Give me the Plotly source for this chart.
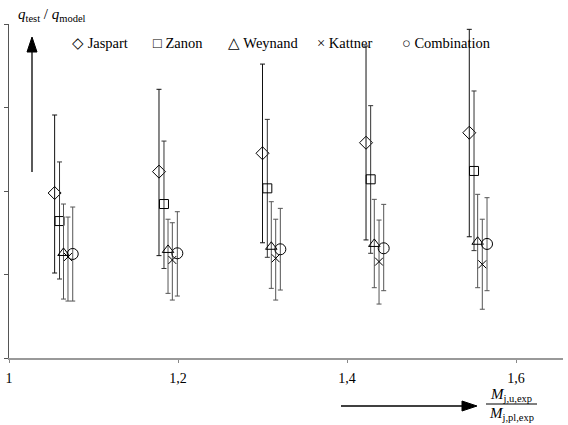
import plotly.graph_objects as go
import numpy as np

# ---- data ----
series_names = ["Jaspart", "Zanon", "Weynand", "Kattner", "Combination"]
x_jaspart = [1.054, 1.1775, 1.300, 1.4225, 1.5447]
x_zanon = [1.0598, 1.1834, 1.3057, 1.428, 1.5503]
x_weynand = [1.0645, 1.1882, 1.3104, 1.4323, 1.5546]
x_kattner = [1.0698, 1.1933, 1.3156, 1.4379, 1.5601]
x_combination = [1.0754, 1.1992, 1.3211, 1.4434, 1.5657]

y_jaspart = [0.988, 1.116, 1.226, 1.289, 1.349]
hi_jaspart = [1.455, 1.609, 1.760, 1.868, 1.968]
lo_jaspart = [0.509, 0.613, 0.690, 0.707, 0.726]

y_zanon = [0.820, 0.922, 1.016, 1.070, 1.120]
hi_zanon = [1.174, 1.299, 1.429, 1.511, 1.599]
lo_zanon = [0.473, 0.536, 0.603, 0.627, 0.643]

y_weynand = [0.629, 0.647, 0.666, 0.683, 0.696]
hi_weynand = [0.922, 0.831, 0.936, 0.950, 0.980]
lo_weynand = [0.353, 0.387, 0.417, 0.421, 0.421]

y_kattner = [0.605, 0.587, 0.597, 0.577, 0.561]
hi_kattner = [0.844, 0.810, 0.831, 0.826, 0.831]
lo_kattner = [0.341, 0.347, 0.347, 0.323, 0.292]

y_combination = [0.623, 0.627, 0.651, 0.657, 0.683]
hi_combination = [0.904, 0.876, 0.896, 0.920, 0.960]
lo_combination = [0.341, 0.371, 0.407, 0.403, 0.403]

x_range = [1.0, 1.6556]
x_tickvals = [1.0, 1.2, 1.4, 1.6]
x_ticktext = ["1", "1,2", "1,4", "1,6"]
y_tickvals = [0, 0.5, 1.0, 1.5, 2.0]

# ---- layout geometry (pixels) ----
W, H = 568, 425
L, R, T, B = 9, 563, 24, 358
FONT = "Liberation Serif, Times New Roman, serif"


def px(xp):
    return (xp - L) / (R - L)


def py(yp):
    return (B - yp) / (B - T)


fig = go.Figure()

specs = [
    (x_jaspart, y_jaspart, hi_jaspart, lo_jaspart, "diamond-open", 10, "#111"),
    (x_zanon, y_zanon, hi_zanon, lo_zanon, "square-open", 9, "#333"),
    (x_weynand, y_weynand, hi_weynand, lo_weynand, "triangle-up-open", 10, "#555"),
    (x_kattner, y_kattner, hi_kattner, lo_kattner, "x-thin-open", 8, "#555"),
    (x_combination, y_combination, hi_combination, lo_combination, "circle-open", 11, "#555"),
]

for name, (xs, ys, hi, lo, sym, size, ecol) in zip(series_names, specs):
    ys_a = np.array(ys)
    fig.add_trace(go.Scatter(
        x=xs, y=ys, mode="markers", name=name,
        marker=dict(symbol=sym, size=size, color="black", line=dict(width=1, color="black")),
        error_y=dict(type="data", symmetric=False,
                     array=list(np.array(hi) - ys_a),
                     arrayminus=list(ys_a - np.array(lo)),
                     color=ecol, thickness=1, width=2.5),
        showlegend=False,
    ))

annotations = []
# y-axis title
annotations.append(dict(
    xref="paper", yref="paper", x=px(16), y=py(15), xanchor="left", yanchor="middle",
    text="<i>q</i><sub>test</sub> / <i>q</i><sub>model</sub>", showarrow=False,
    font=dict(family=FONT, size=15, color="black")))

# legend-like labels
legend_items = [("\u25c7 Jaspart", 70), ("\u25a1 Zanon", 151), ("\u25b3 Weynand", 226),
                ("\u00d7 Kattner", 315), ("\u25cb Combination", 400)]
for txt, xpx in legend_items:
    annotations.append(dict(
        xref="paper", yref="paper", x=px(xpx), y=py(43), xanchor="left", yanchor="middle",
        text=txt, showarrow=False, font=dict(family=FONT, size=14.5, color="black")))

# x-axis fraction title
annotations.append(dict(
    xref="paper", yref="paper", x=px(511), y=py(395), xanchor="center", yanchor="middle",
    text="<i>M</i><sub>j,u,exp</sub>", showarrow=False,
    font=dict(family=FONT, size=15, color="black")))
annotations.append(dict(
    xref="paper", yref="paper", x=px(511), y=py(414), xanchor="center", yanchor="middle",
    text="<i>M</i><sub>j,pl,exp</sub>", showarrow=False,
    font=dict(family=FONT, size=15, color="black")))

shapes = []
# fraction bar
shapes.append(dict(type="line", xref="paper", yref="paper",
                   x0=px(486), x1=px(537), y0=py(404), y1=py(404),
                   line=dict(color="black", width=1)))
# vertical arrow (left)
shapes.append(dict(type="line", xref="paper", yref="paper",
                   x0=px(32), x1=px(32), y0=py(172), y1=py(50),
                   line=dict(color="black", width=1.3)))
shapes.append(dict(type="path", xref="paper", yref="paper",
                   path=f"M {px(27)} {py(52)} L {px(32)} {py(37)} L {px(37)} {py(52)} Z",
                   fillcolor="black", line=dict(color="black", width=1)))
# horizontal arrow (bottom)
shapes.append(dict(type="line", xref="paper", yref="paper",
                   x0=px(341), x1=px(464), y0=py(406), y1=py(406),
                   line=dict(color="black", width=1.3)))
shapes.append(dict(type="path", xref="paper", yref="paper",
                   path=f"M {px(462)} {py(401)} L {px(477)} {py(406)} L {px(462)} {py(411)} Z",
                   fillcolor="black", line=dict(color="black", width=1)))

fig.update_layout(
    width=W, height=H,
    margin=dict(l=L, r=W - R, t=T, b=H - B, pad=0),
    paper_bgcolor="white", plot_bgcolor="white",
    font=dict(family=FONT, color="black"),
    annotations=annotations, shapes=shapes,
    xaxis=dict(range=x_range, tickvals=x_tickvals, ticktext=x_ticktext,
               ticks="outside", ticklen=3, tickcolor="#888", showline=True,
               linecolor="#999", linewidth=1.5, showgrid=False, zeroline=False,
               tickfont=dict(family=FONT, size=14, color="black"), ticklabelstandoff=3),
    yaxis=dict(range=[0, 2.0], tickvals=y_tickvals, showticklabels=False,
               ticks="outside", ticklen=4, tickcolor="#555", showline=True,
               linecolor="#555", linewidth=1, showgrid=False, zeroline=False),
)

fig.write_html("out.html")
